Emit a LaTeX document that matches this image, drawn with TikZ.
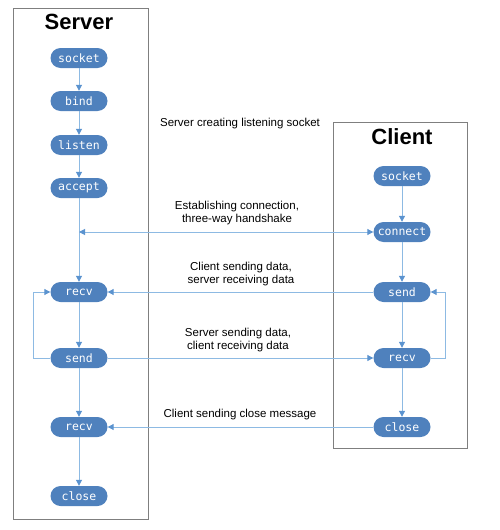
\documentclass[tikz,border=0pt]{standalone}
\usepackage{fontspec}
\setmainfont{Liberation Sans}
\newfontfamily\codefont{DejaVu Sans Mono}
\usetikzlibrary{arrows.meta}
\definecolor{nodeblue}{HTML}{4F81BD}
\definecolor{lineblue}{HTML}{8DBAE3}
\definecolor{tipblue}{HTML}{5B93CF}
\definecolor{boxgray}{HTML}{7F7F7F}
\begin{document}
\begin{tikzpicture}[x=1pt,y=-1pt,
  fn/.style={draw=none,fill=nodeblue,rounded corners=10pt,minimum width=57pt,minimum height=20pt,inner sep=0pt,text=white,font=\codefont\fontsize{11.5}{13}\selectfont},
  lane/.style={draw=boxgray,line width=0.8pt},
  ttl/.style={font=\bfseries\fontsize{22}{26}\selectfont},
  lbl/.style={font=\fontsize{11.5}{13}\selectfont,align=center},
  conn/.style={draw=lineblue,line width=1pt,-{Triangle[width=6pt,length=6pt,color=tipblue]}},
  plain/.style={draw=lineblue,line width=1pt}]
\useasboundingbox (0,0) rectangle (500,530);
% lanes
\draw[lane] (13,8) rectangle (148,519);
\draw[lane] (333,122) rectangle (467,448);
\node[ttl] (st) at (79,22) {Server};
\node[ttl] (ct) at (402,137) {Client};
% server nodes
\node[fn] (ss) at (79,58) {socket};
\node[fn] (sb) at (79,101) {bind};
\node[fn] (sl) at (79,145) {listen};
\node[fn] (sa) at (79,188) {accept};
\node[fn] (sr) at (79,292) {recv};
\node[fn] (sd) at (79,358) {send};
\node[fn] (sr2) at (79,427) {recv};
\node[fn] (sc) at (79,496) {close};
% client nodes
\node[fn] (cs) at (402,176) {socket};
\node[fn] (cc) at (402,232) {connect};
\node[fn] (cd) at (402,292) {send};
\node[fn] (cr) at (402,358) {recv};
\node[fn] (cl) at (402,427) {close};
% server flow
\draw[conn] (ss) -- (sb);
\draw[conn] (sb) -- (sl);
\draw[conn] (sl) -- (sa);
\draw[conn] (sa) -- (sr);
\draw[conn] (sr) -- (sd);
\draw[conn] (sd) -- (sr2);
\draw[conn] (sr2) -- (sc);
\coordinate (sloop) at (33,358);
\draw[conn] (sd.west) -- (sloop) |- (sr.west);
% client flow
\draw[conn] (cs) -- (cc);
\draw[conn] (cc) -- (cd);
\draw[conn] (cd) -- (cr);
\draw[conn] (cr) -- (cl);
\coordinate (cloop) at (445,358);
\draw[conn] (cr.east) -- (cloop) |- (cd.east);
% messages
\coordinate (hs) at (sa |- cc);
\draw[conn,{Triangle[width=6pt,length=6pt,color=tipblue]}-{Triangle[width=6pt,length=6pt,color=tipblue]}] (hs) -- (cc.west);
\draw[conn] (cd.west) -- (sr.east);
\draw[conn] (sd.east) -- (cr.west);
\draw[conn] (cl.west) -- (sr2.east);
% labels
\node[lbl] (l0) at (240,124) {Server creating listening socket};
\node[lbl] (l1) at (237,213) {Establishing connection,\\three-way handshake};
\node[lbl] (l2) at (241,274) {Client sending data,\\server receiving data};
\node[lbl] (l3) at (238,340) {Server sending data,\\client receiving data};
\node[lbl] (l4) at (240,415) {Client sending close message};
\end{tikzpicture}
\end{document}
